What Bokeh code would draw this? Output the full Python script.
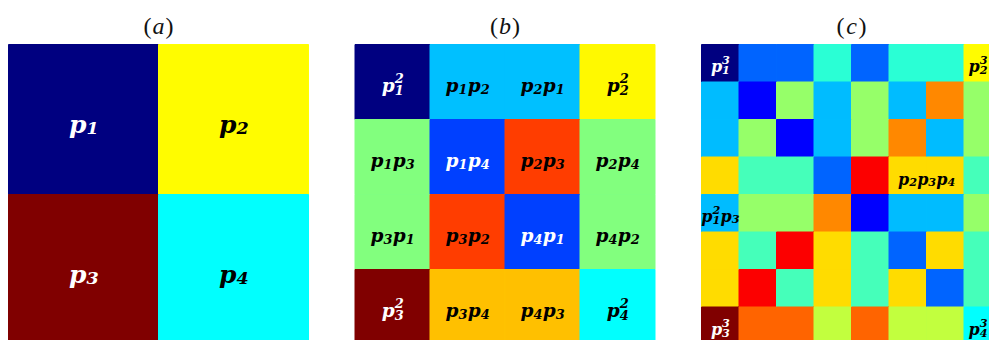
from bokeh.plotting import figure
from bokeh.models import Range1d, ColumnDataSource, LinearColorMapper
from bokeh.core.properties import value
from bokeh.embed import file_html
from bokeh.resources import INLINE

# ---------------- data ----------------
panel_titles = ["a", "b", "c"]

panel_a_labels = [["p₁", "p₂"],
                  ["p₃", "p₄"]]
panel_a_values = [[0.0, 0.625],
                  [1.0, 0.375]]

panel_b_labels = [["p₁²", "p₁p₂", "p₂p₁", "p₂²"],
                  ["p₁p₃", "p₁p₄", "p₂p₃", "p₂p₄"],
                  ["p₃p₁", "p₃p₂", "p₄p₁", "p₄p₂"],
                  ["p₃²", "p₃p₄", "p₄p₃", "p₄²"]]
panel_b_values = [[0.0, 0.3125, 0.3125, 0.63],
                  [0.5, 0.1875, 0.8125, 0.5],
                  [0.5, 0.8125, 0.1875, 0.5],
                  [1.0, 0.685, 0.685, 0.375]]

panel_c_labels = [["p₁³", "", "", "", "", "", "", "p₂³"],
                  ["", "", "", "", "", "", "", ""],
                  ["", "", "", "", "", "", "", ""],
                  ["", "", "", "", "", "p₂p₃p₄", "", ""],
                  ["p₁²p₃", "", "", "", "", "", "", ""],
                  ["", "", "", "", "", "", "", ""],
                  ["", "", "", "", "", "", "", ""],
                  ["p₃³", "", "", "", "", "", "", "p₄³"]]
panel_c_values = [[0.0, 0.225, 0.225, 0.415, 0.225, 0.415, 0.415, 0.625],
                  [0.31, 0.125, 0.5225, 0.31, 0.5225, 0.31, 0.742, 0.5225],
                  [0.31, 0.5225, 0.125, 0.31, 0.5225, 0.742, 0.31, 0.5225],
                  [0.66, 0.443, 0.443, 0.225, 0.875, 0.66, 0.66, 0.443],
                  [0.31, 0.5225, 0.5225, 0.742, 0.125, 0.31, 0.31, 0.5225],
                  [0.66, 0.443, 0.875, 0.66, 0.443, 0.225, 0.66, 0.443],
                  [0.66, 0.875, 0.443, 0.66, 0.443, 0.66, 0.225, 0.443],
                  [1.0, 0.777, 0.777, 0.5625, 0.777, 0.5625, 0.5625, 0.375]]

# label nudges (in cell widths): one label sits between two cells,
# the two labels at the cropped right edge are pulled in to stay whole
label_shift = {"p₂p₃p₄": 0.5, "p₂³": -0.13, "p₄³": -0.13}

# ---------------- style ----------------
PITCH = 1.155            # panel spacing in panel widths
PX = 300.0               # pixels per panel width
LABEL_FONT = value("DejaVu Serif")
TITLE_FONT = value("Liberation Serif")
label_sizes = [25.0, 18.5, 16.0]

SUB = {"₁": "1", "₂": "2", "₃": "3", "₄": "4"}
SUP = {"²": "2", "³": "3"}


def jet(v):
    r = min(max(1.5 - abs(4 * v - 3), 0.0), 1.0)
    g = min(max(1.5 - abs(4 * v - 2), 0.0), 1.0)
    b = min(max(1.5 - abs(4 * v - 1), 0.0), 1.0)
    return "#%02x%02x%02x" % (round(r * 255), round(g * 255), round(b * 255))


def tokens(label):
    out = []
    for ch in label:
        if ch == "p":
            out.append({"sub": "", "sup": ""})
        elif ch in SUB:
            out[-1]["sub"] += SUB[ch]
        elif ch in SUP:
            out[-1]["sup"] += SUP[ch]
    return out


palette = [jet(i / 255) for i in range(256)]
mapper = LinearColorMapper(palette=palette, low=0.0, high=1.0)

p = figure(width=989, height=340, output_backend="svg", toolbar_location=None,
           x_range=Range1d(-8 / PX, 981 / PX),
           y_range=Range1d(4 / PX, 1 + 44 / PX),
           min_border=0, x_axis_location=None, y_axis_location=None,
           background_fill_color="white", border_fill_color="white")
p.outline_line_color = None
p.xgrid.visible = False
p.ygrid.visible = False

panels = [(panel_a_labels, panel_a_values),
          (panel_b_labels, panel_b_values),
          (panel_c_labels, panel_c_values)]

for k, (labels, vals) in enumerate(panels):
    n = len(vals)
    off = k * PITCH
    F = label_sizes[k]
    cell = dict(left=[], right=[], top=[], bottom=[], v=[], col=[])
    txt = dict(x=[], y=[], t=[], tc=[], xo=[], yo=[], al=[], fs=[])
    for r in range(n):
        for c in range(n):
            v = vals[r][c]
            cell["left"].append(off + c / n)
            cell["right"].append(off + (c + 1) / n)
            cell["top"].append(1 - r / n)
            cell["bottom"].append(1 - (r + 1) / n)
            cell["v"].append(v)
            cell["col"].append(jet(v))
            lab = labels[r][c]
            if not lab:
                continue
            sh = label_shift.get(lab, 0.0)
            cx = off + (c + 0.5 + sh) / n
            cy = 1 - (r + 0.5) / n
            tc = "white" if (v < 0.2 or v > 0.95) else "black"
            toks = tokens(lab)
            m = len(toks)
            tw = 1.2 * F              # token width
            base = 0.145 * F + 1      # baseline below cell centre
            for i, tk in enumerate(toks):
                jx = (i - (m - 1) / 2) * tw + 0.115 * F
                pieces = [("p", jx, base, "right", F)]
                if tk["sup"]:
                    pieces.append((tk["sup"], jx, base - 0.4 * F, "left", 0.7 * F))
                    if tk["sub"]:
                        pieces.append((tk["sub"], jx, base + 0.22 * F, "left", 0.7 * F))
                elif tk["sub"]:
                    pieces.append((tk["sub"], jx, base + 0.17 * F, "left", 0.7 * F))
                for (t, xo, yo, al, fs) in pieces:
                    txt["x"].append(cx)
                    txt["y"].append(cy)
                    txt["t"].append(t)
                    txt["tc"].append(tc)
                    txt["xo"].append(xo)
                    txt["yo"].append(yo)
                    txt["al"].append(al)
                    txt["fs"].append("%.1fpx" % fs)
    src = ColumnDataSource(cell)
    p.quad(left="left", right="right", top="top", bottom="bottom", source=src,
           fill_color={"field": "v", "transform": mapper},
           line_color="col", line_width=1)
    p.text(x="x", y="y", text="t", source=ColumnDataSource(txt),
           text_color="tc", text_align="al", text_baseline="alphabetic",
           x_offset="xo", y_offset="yo",
           text_font=LABEL_FONT, text_font_style="bold italic",
           text_font_size="fs")
    # title "(a)" etc.: upright parens, italic letter
    tx = off + 0.5
    p.text(x=[tx], y=[1.0], text=[panel_titles[k]], text_align="center",
           text_baseline="middle", y_offset=-19, text_font=TITLE_FONT,
           text_font_style="italic", text_font_size="24px", text_color="#111111")
    p.text(x=[tx], y=[1.0], text=["("], text_align="right",
           text_baseline="middle", y_offset=-19, x_offset=-7, text_font=TITLE_FONT,
           text_font_size="24px", text_color="#111111")
    p.text(x=[tx], y=[1.0], text=[")"], text_align="left",
           text_baseline="middle", y_offset=-19, x_offset=7, text_font=TITLE_FONT,
           text_font_size="24px", text_color="#111111")

open("out.html", "w").write(file_html(p, INLINE))
